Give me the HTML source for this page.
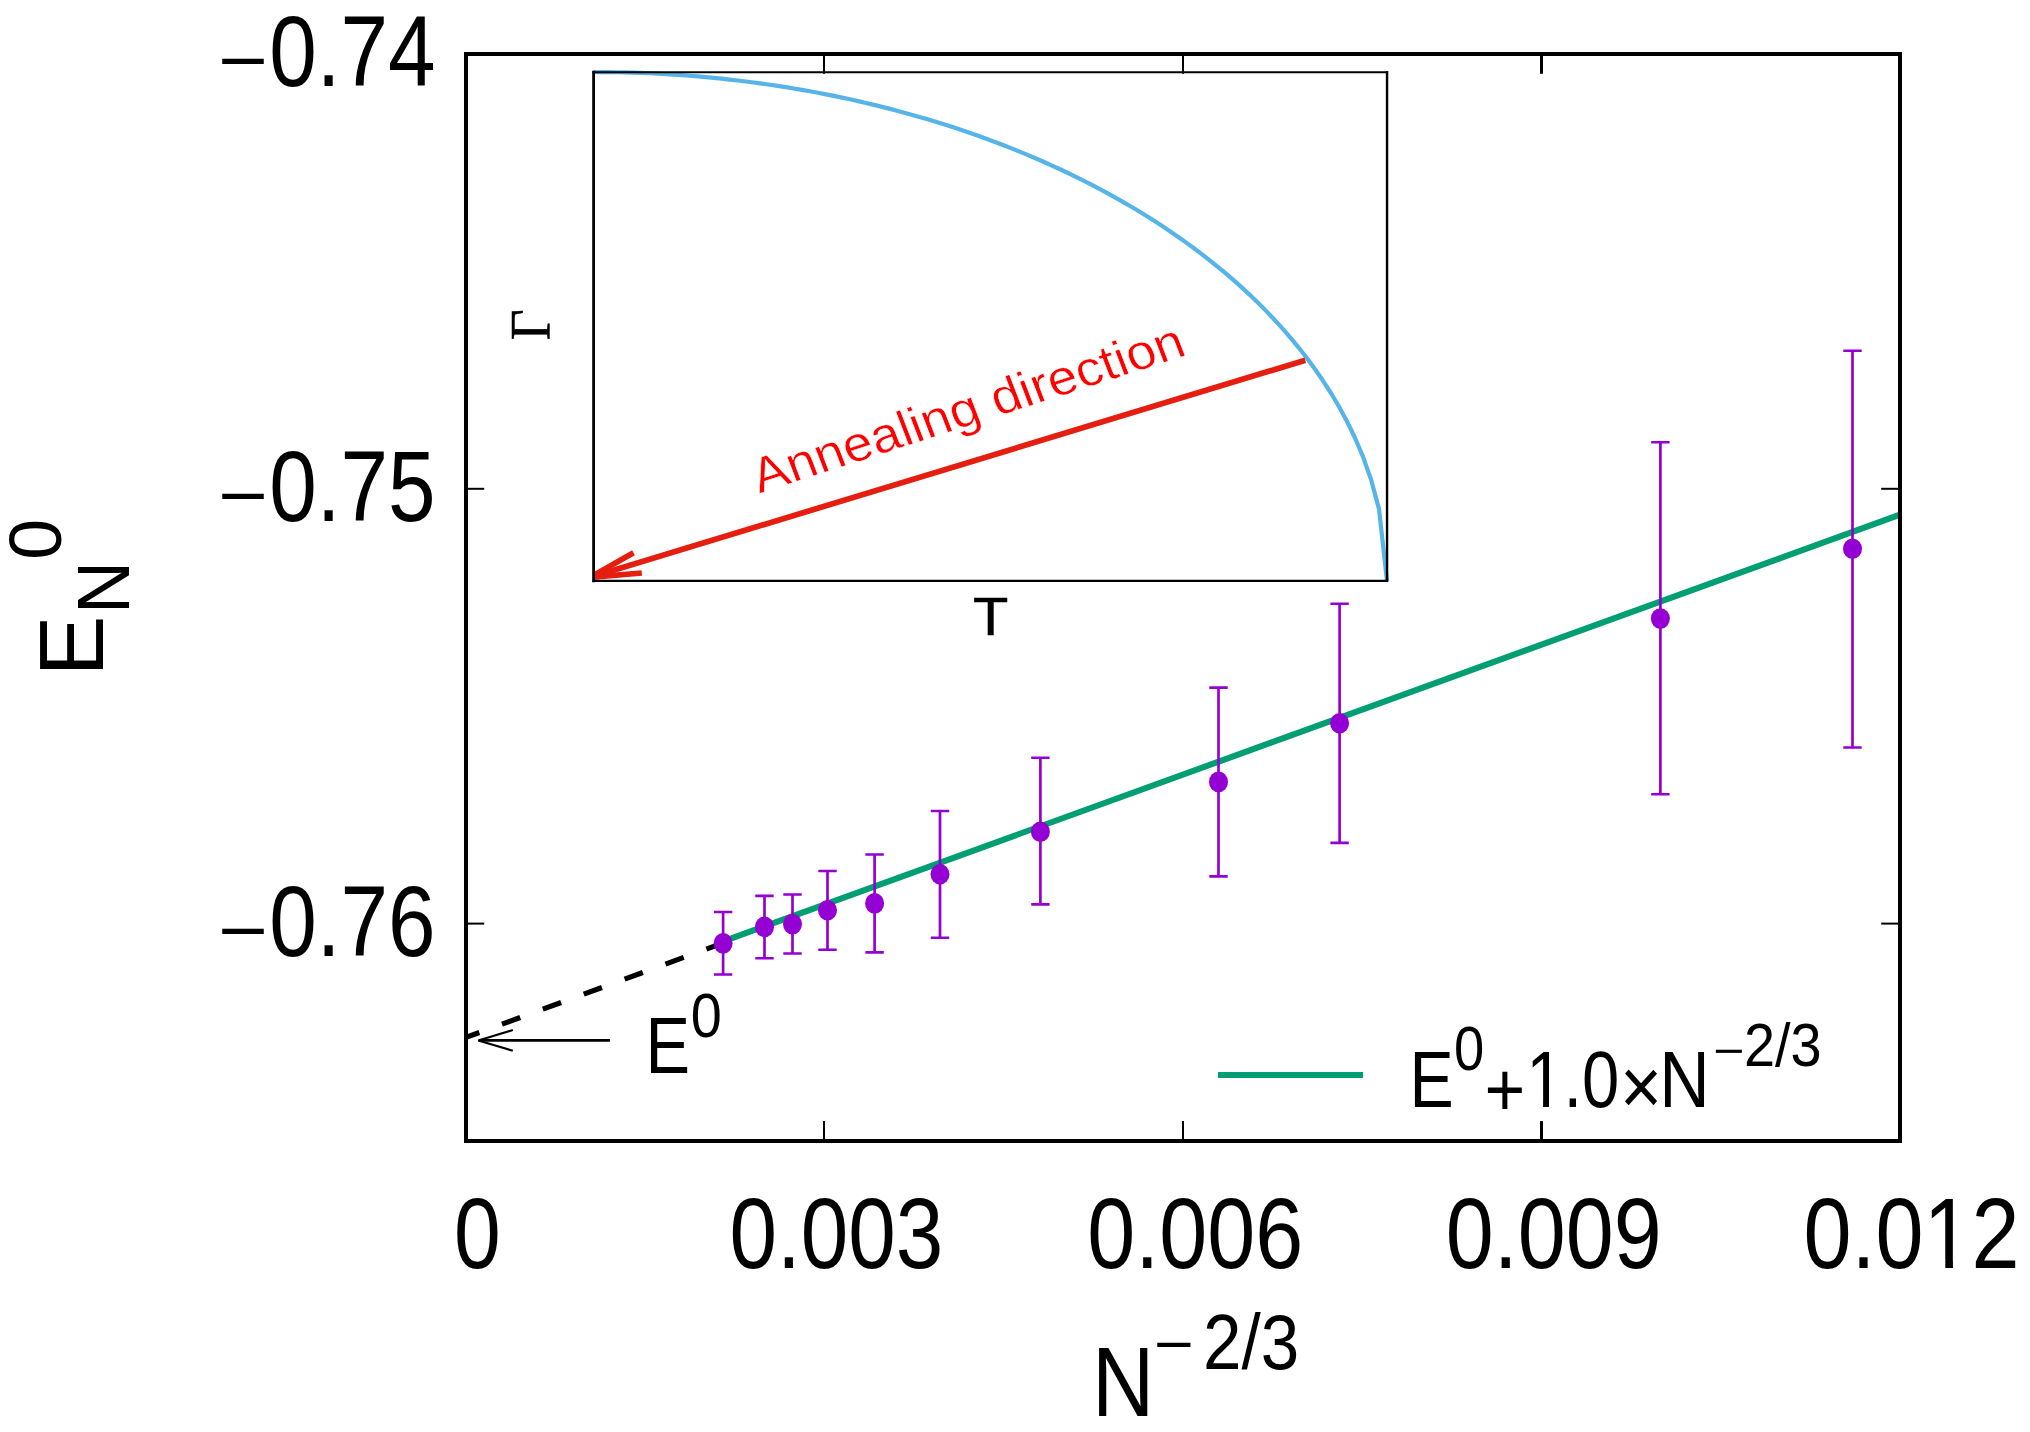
<!DOCTYPE html>
<html><head><meta charset="utf-8"><title>E_N^0 vs N^-2/3</title>
<style>html,body{margin:0;padding:0;background:#fff}svg{display:block}</style></head>
<body>
<svg width="2030" height="1432" viewBox="0 0 2030 1432">
<rect width="2030" height="1432" fill="#fff"/>
<path d="M723.1,941.30 L1900,514.67" stroke="#009e73" stroke-width="6.1" fill="none"/>
<path d="M724.6,942.4 L466,1037.4" stroke="#000" stroke-width="5.2" stroke-dasharray="19.4 24.15" fill="none"/>
<g stroke="#9400d3" fill="none">
<path d="M723.1,912 V974.5" stroke-width="2.7"/>
<path d="M713.9,912 H732.3 M713.9,974.5 H732.3" stroke-width="2.6"/>
<path d="M764.5,895.9 V958.3" stroke-width="2.7"/>
<path d="M755.3,895.9 H773.7 M755.3,958.3 H773.7" stroke-width="2.6"/>
<path d="M792.5,894.5 V953.5" stroke-width="2.7"/>
<path d="M783.3,894.5 H801.7 M783.3,953.5 H801.7" stroke-width="2.6"/>
<path d="M827.5,871 V949.7" stroke-width="2.7"/>
<path d="M818.3,871 H836.7 M818.3,949.7 H836.7" stroke-width="2.6"/>
<path d="M874.6,854.5 V952.4" stroke-width="2.7"/>
<path d="M865.4,854.5 H883.8 M865.4,952.4 H883.8" stroke-width="2.6"/>
<path d="M940,811 V937.7" stroke-width="2.7"/>
<path d="M930.8,811 H949.2 M930.8,937.7 H949.2" stroke-width="2.6"/>
<path d="M1040.4,757.7 V904.4" stroke-width="2.7"/>
<path d="M1031.2,757.7 H1049.6 M1031.2,904.4 H1049.6" stroke-width="2.6"/>
<path d="M1218.5,687.6 V876.4" stroke-width="2.7"/>
<path d="M1209.3,687.6 H1227.7 M1209.3,876.4 H1227.7" stroke-width="2.6"/>
<path d="M1339.6,603.8 V842.9" stroke-width="2.7"/>
<path d="M1330.4,603.8 H1348.8 M1330.4,842.9 H1348.8" stroke-width="2.6"/>
<path d="M1660.4,442.2 V794.3" stroke-width="2.7"/>
<path d="M1651.2,442.2 H1669.6 M1651.2,794.3 H1669.6" stroke-width="2.6"/>
<path d="M1852.5,350.7 V747.5" stroke-width="2.7"/>
<path d="M1843.3,350.7 H1861.7 M1843.3,747.5 H1861.7" stroke-width="2.6"/>
</g>
<g fill="#9400d3">
<ellipse cx="723.1" cy="943.4" rx="9.5" ry="10.3"/>
<ellipse cx="764.5" cy="926.9" rx="9.5" ry="10.3"/>
<ellipse cx="792.5" cy="924.1" rx="9.5" ry="10.3"/>
<ellipse cx="827.5" cy="910.3" rx="9.5" ry="10.3"/>
<ellipse cx="874.6" cy="903.4" rx="9.5" ry="10.3"/>
<ellipse cx="940" cy="874.2" rx="9.5" ry="10.3"/>
<ellipse cx="1040.4" cy="831.8" rx="9.5" ry="10.3"/>
<ellipse cx="1218.5" cy="781.9" rx="9.5" ry="10.3"/>
<ellipse cx="1339.6" cy="723.2" rx="9.5" ry="10.3"/>
<ellipse cx="1660.4" cy="618.6" rx="9.5" ry="10.3"/>
<ellipse cx="1852.5" cy="548.8" rx="9.5" ry="10.3"/>
</g>
<g stroke="#000" fill="none" stroke-linejoin="miter">
<path d="M610,1040.4 H479" stroke-width="2.8"/>
<path d="M512.8,1030.1 L478.3,1040.4 L512.8,1050.8" stroke-width="2.1" stroke-linejoin="bevel"/>
</g>
<rect x="593.5" y="72" width="793.5" height="509" fill="#fff"/>
<polyline points="593.50,72.00 601.52,72.03 609.53,72.10 617.55,72.23 625.56,72.42 633.58,72.65 641.59,72.94 649.61,73.27 657.62,73.66 665.64,74.11 673.65,74.60 681.67,75.15 689.68,75.75 697.70,76.41 705.71,77.12 713.73,77.88 721.74,78.69 729.76,79.56 737.77,80.48 745.79,81.46 753.80,82.49 761.82,83.58 769.83,84.73 777.85,85.93 785.86,87.18 793.88,88.50 801.89,89.87 809.91,91.30 817.92,92.78 825.94,94.33 833.95,95.93 841.97,97.60 849.98,99.32 858.00,101.11 866.02,102.96 874.03,104.87 882.05,106.85 890.06,108.88 898.08,110.99 906.09,113.16 914.11,115.40 922.12,117.70 930.14,120.08 938.15,122.52 946.17,125.03 954.18,127.62 962.20,130.28 970.21,133.02 978.23,135.83 986.24,138.72 994.26,141.69 1002.27,144.74 1010.29,147.87 1018.30,151.08 1026.32,154.39 1034.33,157.78 1042.35,161.26 1050.36,164.83 1058.38,168.50 1066.39,172.27 1074.41,176.13 1082.42,180.10 1090.44,184.18 1098.45,188.36 1106.47,192.66 1114.48,197.08 1122.50,201.61 1130.52,206.28 1138.53,211.07 1146.55,216.00 1154.56,221.06 1162.58,226.28 1170.59,231.65 1178.61,237.18 1186.62,242.88 1194.64,248.75 1202.65,254.81 1210.67,261.07 1218.68,267.54 1226.70,274.23 1234.71,281.16 1242.73,288.35 1250.74,295.80 1258.76,303.55 1266.77,311.63 1274.79,320.05 1282.80,328.86 1290.82,338.10 1298.83,347.82 1306.85,358.07 1314.86,368.95 1322.88,380.55 1330.89,393.00 1338.91,406.49 1346.92,421.28 1354.94,437.78 1362.95,456.65 1370.97,479.21 1378.98,508.84 1387.00,581.00" stroke="#56b4e9" stroke-width="4.2" fill="none" stroke-linejoin="round"/>
<clipPath id="ic"><rect x="593.5" y="72" width="793.5" height="509"/></clipPath>
<g stroke="#e51e10" fill="none" stroke-linecap="butt" stroke-linejoin="miter" clip-path="url(#ic)">
<path d="M1305.3,360.2 L590,577.4" stroke-width="5.7"/>
<path d="M633.5,552.8 L590,577.4 L641.8,573" stroke-width="5.7"/>
</g>
<g stroke="#000" fill="none" stroke-linecap="square">
<path d="M593.6,72.2 V580.9" stroke-width="2.8"/>
<path d="M1387.05,72.2 V580.9" stroke-width="2.4"/>
<path d="M593.6,72.25 H1387" stroke-width="2.1"/>
<path d="M593.6,580.9 H1387" stroke-width="2.1"/>
</g>
<text transform="translate(1008.30,634.70) scale(1.062,1)" font-size="54.5" font-family="'Liberation Sans', sans-serif" fill="#000" text-anchor="end" stroke="#000" stroke-width="0.5">T</text>
<text transform="translate(549.85,340.3) scale(1,0.934) rotate(-90)" font-size="57.4" font-family="'Liberation Serif', serif" fill="#000" stroke="#000" stroke-width="0.5">Γ</text>
<text transform="translate(759.30,493.50) scale(1.0875,1) rotate(-19.4)" font-size="49.2" font-family="'Liberation Sans', sans-serif" fill="#ff0000" text-anchor="start" stroke="#fff" stroke-width="0.45">Annealing direction</text>
<g stroke="#000" stroke-width="2" fill="none" stroke-linecap="butt">
<path d="M824.0,1141 V1121.1" stroke-width="2"/>
<path d="M824.0,54 V73.8" stroke-width="2"/>
<path d="M1183.0,1141 V1121.1" stroke-width="2"/>
<path d="M1183.0,54 V73.8" stroke-width="2"/>
<path d="M1541.5,1141 V1121.1" stroke-width="3"/>
<path d="M1541.5,54 V73.8" stroke-width="3"/>
<path d="M466,488.8 H484.2"/>
<path d="M1900,488.8 H1881.2"/>
<path d="M466,923.6 H484.2"/>
<path d="M1900,923.6 H1881.2"/>
</g>
<rect x="466" y="54" width="1434" height="1087" fill="none" stroke="#000" stroke-width="4"/>
<g>
<text transform="translate(217.78,85.40) scale(0.857,0.72)" font-size="99.8" font-family="'Liberation Sans', sans-serif" fill="#000" text-anchor="start" >−</text>
<text transform="translate(435.58,86.00) scale(0.857,1)" font-size="99.8" font-family="'Liberation Sans', sans-serif" fill="#000" text-anchor="end" >0.74</text>
</g>
<g>
<text transform="translate(217.78,520.40) scale(0.857,0.72)" font-size="99.8" font-family="'Liberation Sans', sans-serif" fill="#000" text-anchor="start" >−</text>
<text transform="translate(435.58,521.00) scale(0.857,1)" font-size="99.8" font-family="'Liberation Sans', sans-serif" fill="#000" text-anchor="end" >0.75</text>
</g>
<g>
<text transform="translate(217.78,955.00) scale(0.857,0.72)" font-size="99.8" font-family="'Liberation Sans', sans-serif" fill="#000" text-anchor="start" >−</text>
<text transform="translate(435.58,955.60) scale(0.857,1)" font-size="99.8" font-family="'Liberation Sans', sans-serif" fill="#000" text-anchor="end" >0.76</text>
</g>
<text transform="translate(454.12,1267.50) scale(0.8426,1)" font-size="99.8" font-family="'Liberation Sans', sans-serif" fill="#000">0</text>
<text transform="translate(729.46,1267.50) scale(0.8560,1)" font-size="99.8" font-family="'Liberation Sans', sans-serif" fill="#000">0.003</text>
<text transform="translate(1087.33,1267.50) scale(0.8647,1)" font-size="99.8" font-family="'Liberation Sans', sans-serif" fill="#000">0.006</text>
<text transform="translate(1445.83,1267.50) scale(0.8643,1)" font-size="99.8" font-family="'Liberation Sans', sans-serif" fill="#000">0.009</text>
<clipPath id="c1_1"><path clip-rule="evenodd" d="M-99.80,-119.76 H349.54 V49.90 H-99.80 Z M144.72,-7.73 H163.84 V2.00 H144.72 Z M172.65,-7.73 H190.63 V2.00 H172.65 Z"/></clipPath>
<text transform="translate(1803.53,1267.50) scale(0.8654,1)" font-size="99.8" font-family="'Liberation Sans', sans-serif" fill="#000" clip-path="url(#c1_1)">0.012</text>
<text transform="translate(1091.92,1416.00) scale(0.8734,1)" font-size="98.8" font-family="'Liberation Sans', sans-serif" fill="#000">N</text>
<text transform="translate(1153.65,1364.00) scale(0.857,0.72)" font-size="79.84" font-family="'Liberation Sans', sans-serif" fill="#000" text-anchor="start" >−</text>
<text transform="translate(1203.02,1369.00) scale(0.8898,1)" font-size="77.7" font-family="'Liberation Sans', sans-serif" fill="#000">2/3</text>
<text transform="translate(103.00,676.39) scale(1,1) rotate(-90)" font-size="91.3" font-family="'Liberation Sans', sans-serif" fill="#000" text-anchor="start" >E</text>
<text transform="translate(129.10,613.93) scale(1,1) rotate(-90)" font-size="73.5" font-family="'Liberation Sans', sans-serif" fill="#000" text-anchor="start" >N</text>
<text transform="translate(61.40,559.87) scale(1,1) rotate(-90)" font-size="73.5" font-family="'Liberation Sans', sans-serif" fill="#000" text-anchor="start" >0</text>
<path d="M1218,1075 H1363" stroke="#009e73" stroke-width="5.8" fill="none"/>
<text transform="translate(1409.57,1106.80) scale(0.8342,1)" font-size="79.4" font-family="'Liberation Sans', sans-serif" fill="#000">E</text>
<text transform="translate(1453.88,1070.30) scale(0.8730,1)" font-size="62.3" font-family="'Liberation Sans', sans-serif" fill="#000">0</text>
<text transform="translate(1484.59,1115.60) scale(0.9254,1)" font-size="75.4" font-family="'Liberation Sans', sans-serif" fill="#000">+</text>
<clipPath id="c1_2"><path clip-rule="evenodd" d="M-79.40,-95.28 H189.78 V39.70 H-79.40 Z M4.76,-6.15 H19.97 V1.59 H4.76 Z M26.98,-6.15 H41.29 V1.59 H26.98 Z"/></clipPath>
<text transform="translate(1526.22,1106.80) scale(0.8444,1)" font-size="79.4" font-family="'Liberation Sans', sans-serif" fill="#000" clip-path="url(#c1_2)">1.0</text>
<text transform="translate(1620.01,1114.30) scale(0.9069,1)" font-size="79.4" font-family="'Liberation Sans', sans-serif" fill="#000">×</text>
<text transform="translate(1659.32,1106.80) scale(0.8798,1)" font-size="79.4" font-family="'Liberation Sans', sans-serif" fill="#000">N</text>
<text transform="translate(1713.36,1065.50) scale(0.8590,0.72)" font-size="62.3" font-family="'Liberation Sans', sans-serif" fill="#000">−</text>
<text transform="translate(1743.99,1066.20) scale(0.9070,1)" font-size="61.6" font-family="'Liberation Sans', sans-serif" fill="#000">2/3</text>
<text transform="translate(645.52,1073.00) scale(0.8412,1)" font-size="79.4" font-family="'Liberation Sans', sans-serif" fill="#000">E</text>
<text transform="translate(690.82,1036.50) scale(0.8965,1)" font-size="62.3" font-family="'Liberation Sans', sans-serif" fill="#000">0</text>
</svg>
</body></html>
